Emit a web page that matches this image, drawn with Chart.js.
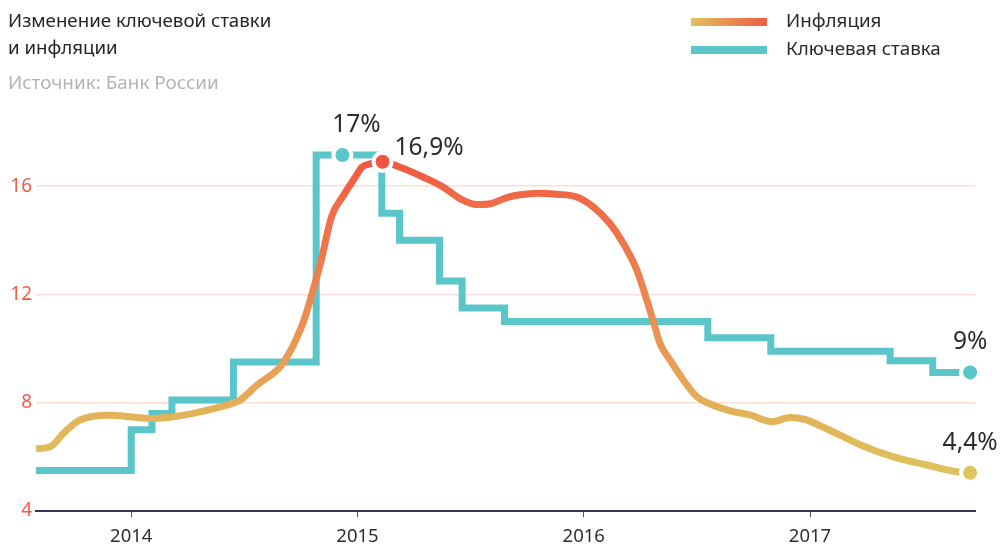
<!DOCTYPE html>
<html>
<head>
<meta charset="utf-8">
<script src="https://cdn.jsdelivr.net/npm/chart.js@4.4.1/dist/chart.umd.min.js"></script>
<style>
  html, body { margin: 0; padding: 0; background: #fff; }
  body { width: 1002px; height: 544px; position: relative; overflow: hidden; font-family: "Noto Sans", "Open Sans", sans-serif; }
  #c { position: absolute; left: 0; top: 0; }
  .t { position: absolute; white-space: nowrap; line-height: 27px; }
  .title { left: 8px; top: 6px; font-size: 18.7px; color: #252525; }
  .src { left: 8px; top: 69px; font-size: 18.9px; color: #b3b3b3; }
  .lg { left: 786px; font-size: 18.8px; color: #2a2a2a; }
  .sw { position: absolute; left: 691px; width: 76px; height: 8px; }
</style>
</head>
<body>
<canvas id="c" width="1002" height="544"></canvas>
<div class="t title">Изменение ключевой ставки<br>и инфляции</div>
<div class="t src">Источник: Банк России</div>
<div class="sw" style="top:18px;background:linear-gradient(to right,#dfc35c,#f05b45);"></div>
<div class="t lg" style="top:7px;">Инфляция</div>
<div class="sw" style="top:46px;background:#5ac6c9;"></div>
<div class="t lg" style="top:35px;">Ключевая ставка</div>
<script>
// months counted from January 2014 (0 = Jan 2014)
const inflationMonths = [-5.05,-4.30,-3.59,-2.88,-2.00,-1.11,-0.05,1.18,2.42,3.82,5.07,5.78,6.67,7.90,8.43,8.75,9.14,9.58,10.02,10.64,11.26,11.88,12.23,12.67,13.33,14.26,15.50,16.56,17.45,18.33,19.04,19.92,20.63,21.51,22.57,23.63,24.51,25.40,26.11,26.82,27.35,27.70,28.05,28.58,29.29,30.00,30.70,31.76,32.82,33.99,34.94,35.74,36.53,37.59,38.65,40.42,42.19,43.79,44.49];
const inflationValues = [6.30,6.37,6.87,7.30,7.50,7.54,7.48,7.42,7.50,7.69,7.91,8.10,8.65,9.33,9.90,10.35,11.0,12.0,13.1,14.9,15.66,16.33,16.70,16.82,16.9,16.70,16.33,15.96,15.53,15.32,15.35,15.58,15.68,15.74,15.70,15.60,15.23,14.61,13.87,12.89,11.78,10.98,10.18,9.57,8.83,8.22,7.95,7.70,7.55,7.30,7.45,7.38,7.15,6.80,6.45,6.00,5.70,5.45,5.41];
const keyRateMonths = [-5.05,0,1.10,2.16,5.42,9.81,11.20,13.29,14.23,16.35,17.55,19.80,30.58,33.92,40.25,42.51,44.49];
const keyRateValues = [5.5,7,7.6,8.1,9.5,17.15,17.15,15,14,12.5,11.5,11,10.4,9.9,9.55,9.12,9.12];
const yearTickMonths = [0,12,24,36];
const yearLabels = ['2014','2015','2016','2017'];
const yTickValues = [4,8,12,16];
const seriesNames = ['Инфляция','Ключевая ставка'];
// annotations: [datasetIndex, pointIndex, text]
const annotations = [
  [1, 6, '17%'],
  [0, 24, '16,9%'],
  [1, 16, '9%'],
  [0, inflationValues.length - 1, '4,4%']
];
const annotationStyle = [
  {dx: 14, dy: -30, align: 'center'},
  {dx: 12, dy: -14, align: 'left'},
  {dx: 0, dy: -30, align: 'center'},
  {dx: 0, dy: -30, align: 'center'}
];

const TEAL = '#5ac6c9';
const inflPeak = inflationValues.indexOf(Math.max(...inflationValues));
const inflLast = inflationValues.length - 1;
const krPeak = 6, krLast = keyRateValues.length - 1;

function inflGradient(ctx) {
  const chart = ctx.chart;
  const ca = chart.chartArea;
  if (!ca) return '#e8a050';
  const y = chart.scales.y;
  const g = chart.ctx.createLinearGradient(0, y.getPixelForValue(5), 0, y.getPixelForValue(17));
  g.addColorStop(0, '#dcc55c');
  g.addColorStop(0.21, '#e2b35a');
  g.addColorStop(0.33, '#e6a356');
  g.addColorStop(0.58, '#ed8550');
  g.addColorStop(0.875, '#ef6a47');
  g.addColorStop(1, '#ef5840');
  return g;
}

const labelPlugin = {
  id: 'valueLabels',
  afterDatasetsDraw(chart) {
    const ctx = chart.ctx;
    ctx.save();
    ctx.font = '24.5px "Noto Sans"';
    ctx.fillStyle = '#2b2b2b';
    ctx.textBaseline = 'middle';
    annotations.forEach((a, i) => {
      const el = chart.getDatasetMeta(a[0]).data[a[1]];
      const s = annotationStyle[i];
      ctx.textAlign = s.align;
      ctx.fillText(a[2], el.x + s.dx, el.y + s.dy);
    });
    ctx.restore();
  }
};

new Chart(document.getElementById('c'), {
  type: 'line',
  data: {
    datasets: [
      {
        label: seriesNames[0],
        data: inflationMonths.map((m, i) => ({x: m, y: inflationValues[i]})),
        borderColor: inflGradient,
        borderWidth: 7,
        cubicInterpolationMode: 'monotone',
        borderCapStyle: 'butt',
        borderJoinStyle: 'round',
        pointRadius: inflationValues.map((v, i) => (i === inflPeak || i === inflLast) ? 9 : 0),
        pointBackgroundColor: inflationValues.map((v, i) => i === inflLast ? '#dcc55c' : '#ef5640'),
        pointBorderColor: '#ffffff',
        pointBorderWidth: 4,
        order: 0,
        clip: false
      },
      {
        label: seriesNames[1],
        data: keyRateMonths.map((m, i) => ({x: m, y: keyRateValues[i]})),
        borderColor: TEAL,
        borderWidth: 7,
        stepped: 'before',
        borderCapStyle: 'butt',
        borderJoinStyle: 'miter',
        pointRadius: keyRateValues.map((v, i) => (i === krPeak || i === krLast) ? 9 : 0),
        pointBackgroundColor: TEAL,
        pointBorderColor: '#ffffff',
        pointBorderWidth: 4,
        order: 1,
        clip: false
      }
    ]
  },
  options: {
    responsive: false,
    animation: false,
    devicePixelRatio: 1,
    layout: { padding: { top: 132, right: 27, bottom: 0, left: 0 } },
    plugins: { legend: { display: false }, tooltip: { enabled: false } },
    scales: {
      x: {
        type: 'linear',
        min: -5.05,
        max: 44.75,
        afterFit(s) { s.height = 33; },
        afterBuildTicks(s) { s.ticks = yearTickMonths.map(v => ({value: v})); },
        ticks: {
          autoSkip: false,
          maxRotation: 0,
          padding: 9,
          color: '#2f2f2f',
          font: { family: 'Noto Sans', size: 18.5 },
          callback: (v) => yearLabels[yearTickMonths.indexOf(v)]
        },
        grid: { drawOnChartArea: false, drawTicks: true, tickLength: 6, color: '#555', lineWidth: 1 },
        border: { display: true, color: '#34345c', width: 2 }
      },
      y: {
        type: 'linear',
        min: 4,
        max: 18,
        afterFit(s) { s.width = 36; },
        afterBuildTicks(s) { s.ticks = yTickValues.map(v => ({value: v})); },
        ticks: {
          padding: 4,
          color: '#f25b46',
          font: { family: 'Noto Sans', size: 19 }
        },
        grid: { color: '#fddcd2', lineWidth: 1.5, drawTicks: false },
        border: { display: false }
      }
    }
  },
  plugins: [labelPlugin]
});
</script>
</body>
</html>
